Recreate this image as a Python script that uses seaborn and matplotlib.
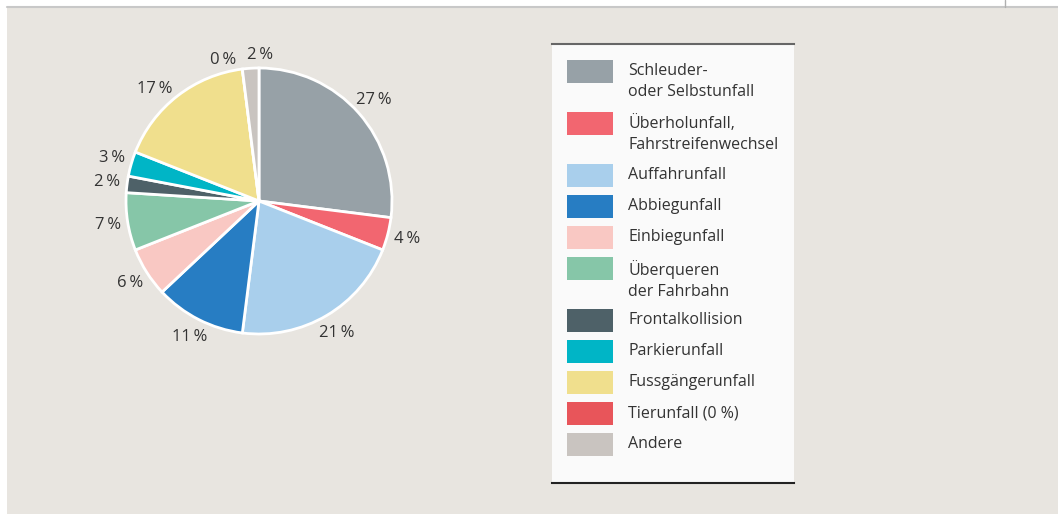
import matplotlib
matplotlib.use("Agg")
import numpy as np
import matplotlib.pyplot as plt
from matplotlib.patches import Rectangle
from matplotlib.lines import Line2D
import seaborn as sns

# data
categories = ["Schleuder-\noder Selbstunfall", "Überholunfall,\nFahrstreifenwechsel",
              "Auffahrunfall", "Abbiegunfall", "Einbiegunfall", "Überqueren\nder Fahrbahn",
              "Frontalkollision", "Parkierunfall", "Fussgängerunfall", "Tierunfall (0 %)", "Andere"]
values = [27, 4, 21, 11, 6, 7, 2, 3, 17, 0, 2]
colors = ["#97a1a7", "#f26670", "#a9cfec", "#277dc3", "#f9c8c3", "#86c6a8",
          "#4e6168", "#00b5c6", "#f0df8d", "#e8555a", "#c9c4c0"]
labels = [f"{v}\u2009%" for v in values]

sns.set_theme(style="white")
plt.rcParams["font.family"] = ["Open Sans", "DejaVu Sans"]

W, H = 1058, 514
fig = plt.figure(figsize=(W / 100, H / 100), dpi=100, facecolor="white")

def fx(px):
    return px / W

def fy(py):
    return 1 - py / H

# background panel
fig.patches.append(Rectangle((fx(7), 0), 1 - fx(7), fy(7), transform=fig.transFigure,
                             facecolor="#e8e5e0", edgecolor="none", zorder=-5))
fig.lines.append(Line2D([fx(7), 1], [fy(7), fy(7)], transform=fig.transFigure,
                        color="#c8c8c8", lw=1.5, zorder=-4))
fig.lines.append(Line2D([fx(1005), fx(1005)], [fy(0), fy(7)], transform=fig.transFigure,
                        color="#b0b0b0", lw=1, zorder=-4))

# pie
cx, cy, R = 259, 201, 133
ax = fig.add_axes([fx(cx - R), fy(cy + R), 2 * R / W, 2 * R / H])
wedges, texts = ax.pie(values, colors=colors, labels=labels, startangle=90, counterclock=False,
                       labeldistance=1.15, wedgeprops=dict(edgecolor="white", linewidth=2),
                       textprops=dict(fontsize=12, color="#333333"))
# centre labels on their radial point; spread the small ones at the top
nudge = {8: 5, 9: 7, 10: -4}
dist = {9: 1.09, 10: 1.1}
for i, (w, t) in enumerate(zip(wedges, texts)):
    ang = np.deg2rad((w.theta1 + w.theta2) / 2 + nudge.get(i, 0))
    r = dist.get(i, 1.15)
    t.set_position((r * np.cos(ang), r * np.sin(ang)))
    t.set_ha("center")
    t.set_va("center")
ax.set_xlim(-1, 1)
ax.set_ylim(-1, 1)
ax.set_aspect("equal")
ax.axis("off")

# legend box
lx0, lx1, ly0, ly1 = 552, 794, 44, 483
lax = fig.add_axes([fx(lx0), fy(ly1), (lx1 - lx0) / W, (ly1 - ly0) / H])
lax.set_xlim(lx0, lx1)
lax.set_ylim(ly1, ly0)
lax.set_facecolor("#fafafa")
for s in ["left", "right"]:
    lax.spines[s].set_visible(False)
lax.spines["top"].set_color("#666666")
lax.spines["top"].set_linewidth(1.5)
lax.spines["bottom"].set_color("#222222")
lax.spines["bottom"].set_linewidth(1.5)
lax.set_xticks([])
lax.set_yticks([])

y = 60
for name, col in zip(categories, colors):
    n = name.count("\n") + 1
    lax.add_patch(Rectangle((567, y), 46, 23, facecolor=col, edgecolor="none"))
    lax.text(628, y + 3, name, va="top", ha="left", fontsize=11.5, color="#333333",
             linespacing=1.4)
    y += 31 + (n - 1) * 21

fig.savefig("out.png", dpi=100, facecolor=fig.get_facecolor())
